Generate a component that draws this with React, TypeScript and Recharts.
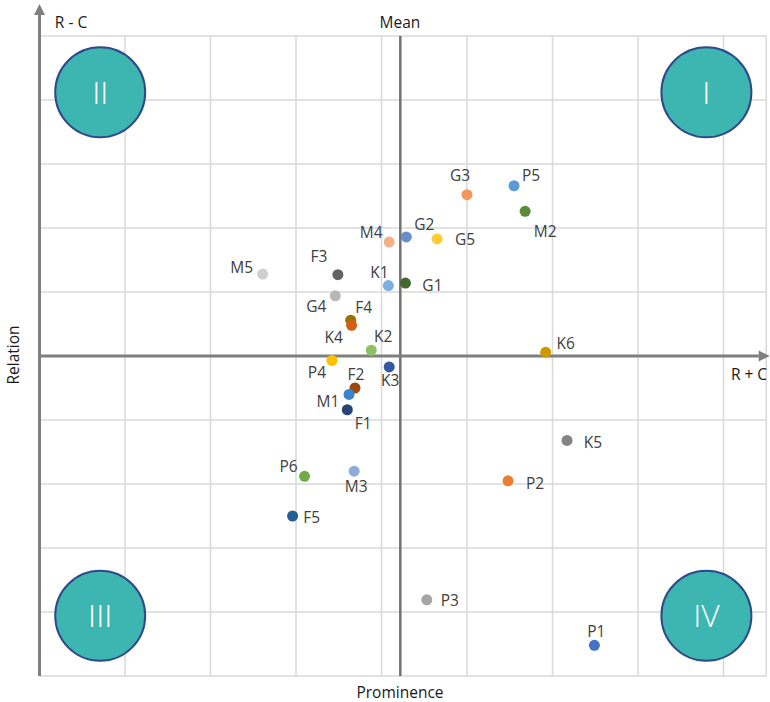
import React from "react";
import {
  ScatterChart,
  Scatter,
  XAxis,
  YAxis,
  CartesianGrid,
  ReferenceLine,
  ReferenceDot,
  Label,
  Cell,
} from "recharts";

// factor codes and their (prominence, relation) scores
const names = [
  "P1", "P2", "P3", "P4", "P5", "P6",
  "F1", "F2", "F3", "F4", "F5",
  "G1", "G2", "G3", "G4", "G5",
  "K1", "K2", "K3", "K4", "K5", "K6",
  "M1", "M2", "M3", "M4", "M5",
];
const prominence = [
  6.49, 5.48, 4.53, 3.42, 5.55, 3.10,
  3.60, 3.69, 3.49, 3.64, 2.96,
  4.28, 4.29, 5.00, 3.46, 4.65,
  4.08, 3.88, 4.09, 3.65, 6.17, 5.92,
  3.62, 5.68, 3.68, 4.09, 2.61,
];
const relation = [
  -4.52, -1.95, -3.81, -0.07, 2.66, -1.88,
  -0.84, -0.50, 1.27, 0.56, -2.50,
  1.14, 1.86, 2.52, 0.94, 1.83,
  1.10, 0.09, -0.17, 0.48, -1.32, 0.06,
  -0.60, 2.26, -1.80, 1.78, 1.28,
];
const meanProminence = 4.22;

const xTicks = [0, 1, 2, 3, 4, 5, 6, 7, 8];
const yTicks = [-5, -4, -3, -2, -1, 0, 1, 2, 3, 4, 5];

const quadrants = [
  { label: "I", x: 7.8, y: 4.12 },
  { label: "II", x: 0.71, y: 4.12 },
  { label: "III", x: 0.71, y: -4.06 },
  { label: "IV", x: 7.8, y: -4.06 },
];

// styles
const colors = [
  "#4472C4", "#ED7D31", "#A5A5A5", "#FFC000", "#5B9BD5", "#70AD47",
  "#264478", "#9E480E", "#636363", "#997300", "#255E91",
  "#43682B", "#698ED0", "#F1975A", "#B7B7B7", "#FFCD33",
  "#7CAFDD", "#8CC168", "#335AA1", "#D26012", "#848484", "#CC9A00",
  "#3A84CC", "#5A8A3A", "#8FAADC", "#F4B183", "#CFCFCF",
];
// label offset from the dot centre, in px
const labelOffsets: Record<string, [number, number]> = {
  P1: [2, -14], P2: [27, 3], P3: [23, 1], P4: [-15, 12], P5: [17, -10], P6: [-16, -10],
  F1: [16, 14], F2: [1, -14], F3: [-19, -18], F4: [13, -13], F5: [19, 1],
  G1: [27, 2], G2: [18, -12], G3: [-7, -19], G4: [-19, 11], G5: [28, 1],
  K1: [-9, -13], K2: [12, -14], K3: [1, 14], K4: [-18, 12], K5: [26, 2], K6: [20, -9],
  M1: [-21, 7], M2: [20, 20], M3: [2, 15], M4: [-18, -10], M5: [-21, -7],
};

const data = names.map((name, i) => ({ name, x: prominence[i], y: relation[i] }));

const FONT = "'Open Sans', 'DejaVu Sans', sans-serif";
const AXIS_GREY = "#7F7F7F";

const Dot = (props: any) => {
  const { cx, cy, fill, payload } = props;
  const [dx, dy] = labelOffsets[payload.name] || [0, -14];
  return (
    <g>
      <circle cx={cx} cy={cy} r={5.5} fill={fill} />
      <text
        x={cx + dx}
        y={cy + dy + 5.5}
        textAnchor="middle"
        fontSize={15.5}
        fontFamily={FONT}
        fill="#404040"
      >
        {payload.name}
      </text>
    </g>
  );
};

const Arrow = (props: any) => {
  const { x1, y1, x2, y2 } = props;
  const len = Math.hypot(x2 - x1, y2 - y1);
  const ux = (x2 - x1) / len;
  const uy = (y2 - y1) / len;
  const head = 11;
  const half = 5.5;
  const bx = x2 - ux * head;
  const by = y2 - uy * head;
  const pts = `${x2},${y2} ${bx - uy * half},${by + ux * half} ${bx + uy * half},${by - ux * half}`;
  return (
    <g>
      <line x1={x1} y1={y1} x2={bx} y2={by} stroke={AXIS_GREY} strokeWidth={3} />
      <polygon points={pts} fill={AXIS_GREY} />
    </g>
  );
};

export default function App() {
  return (
    <div style={{ position: "absolute", left: 0, top: 0, width: 770, height: 702, background: "#fff" }}>
      <ScatterChart width={770} height={702} margin={{ top: 36, right: 3.75, bottom: 26, left: 39.5 }}>
        <CartesianGrid stroke="#D9D9D9" strokeWidth={1.5} />
        <XAxis type="number" dataKey="x" domain={[0, 8.5]} ticks={xTicks} hide allowDataOverflow />
        <YAxis type="number" dataKey="y" domain={[-5, 5]} ticks={yTicks} hide allowDataOverflow />

        <ReferenceLine x={meanProminence} stroke="#757171" strokeWidth={2.5} />
        <ReferenceLine
          segment={[{ x: 0, y: -5 }, { x: 0, y: 5.5 }]}
          ifOverflow="visible"
          shape={Arrow}
        />
        <ReferenceLine
          segment={[{ x: 0, y: 0 }, { x: 8.54, y: 0 }]}
          ifOverflow="visible"
          shape={Arrow}
        />

        {quadrants.map((q) => (
          <ReferenceDot
            key={q.label}
            x={q.x}
            y={q.y}
            r={45}
            fill="#3DB5B1"
            stroke="#2F4A8A"
            strokeWidth={2}
          >
            <Label value={q.label} position="center" fill="#fff" fontSize={32} fontWeight={300} fontFamily={FONT} />
          </ReferenceDot>
        ))}

        <Scatter data={data} shape={Dot} isAnimationActive={false}>
          {data.map((d, i) => (
            <Cell key={d.name} fill={colors[i]} />
          ))}
        </Scatter>

        <text x={71} y={28} textAnchor="middle" fontSize={15.5} fontFamily={FONT} fill="#1a1a1a">R - C</text>
        <text x={400} y={28} textAnchor="middle" fontSize={15.5} fontFamily={FONT} fill="#1a1a1a">Mean</text>
        <text x={749} y={380} textAnchor="middle" fontSize={15.5} fontFamily={FONT} fill="#1a1a1a">R + C</text>
        <text x={400} y={698} textAnchor="middle" fontSize={15.5} fontFamily={FONT} fill="#1a1a1a">Prominence</text>
        <text
          x={13}
          y={355}
          textAnchor="middle"
          dominantBaseline="central"
          fontSize={15.5}
          fontFamily={FONT}
          fill="#1a1a1a"
          transform="rotate(-90 13 355)"
        >
          Relation
        </text>
      </ScatterChart>
    </div>
  );
}
